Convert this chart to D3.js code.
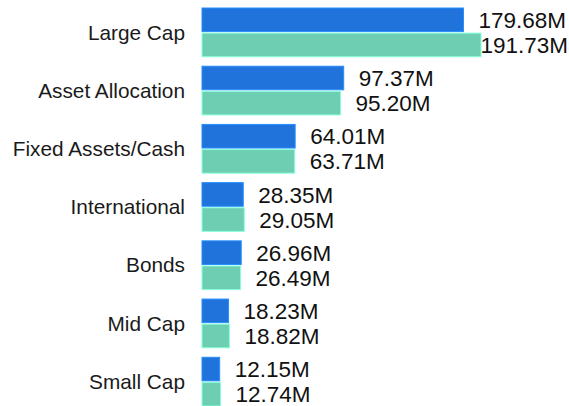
<!DOCTYPE html>
<html>
<head>
<meta charset="utf-8">
<script src="https://cdn.jsdelivr.net/npm/d3@7"></script>
<style>
  body { margin: 0; background: #fff; }
  text { font-family: "Liberation Sans", Arial, sans-serif; }
</style>
</head>
<body>
<div class="chart-container"></div>
<script>
//! DATA
const categories = ['Large Cap', 'Asset Allocation', 'Fixed Assets/Cash', 'International', 'Bonds', 'Mid Cap', 'Small Cap']
const seriesNames = ['current', 'previous']
const currentValues = [179.68, 97.37, 64.01, 28.35, 26.96, 18.23, 12.15]
const previousValues = [191.73, 95.20, 63.71, 29.05, 26.49, 18.82, 12.74]
const colors = ['#1f73db', '#6dceb1']

//! CONSTS
const width = 569
const height = 406
const left = 202
const labelGap = 15

const rows = categories.map((c, i) => ({
  category: c,
  values: [currentValues[i], previousValues[i]]
}))

//! SVG
const svg = d3.select('.chart-container')
  .append('svg')
  .attr('width', width)
  .attr('height', height)

//! SCALES
const xScale = d3.scaleLinear()
  .domain([0, d3.max(previousValues.concat(currentValues))])
  .range([left, 481])

const yScale = d3.scaleBand()
  .domain(categories)
  .range([8, 406])
  .paddingInner(0.163)
  .paddingOuter(0)

const subScale = d3.scaleBand()
  .domain(seriesNames)
  .range([0, yScale.bandwidth()])
  .paddingInner(0.06)

//! CATEGORY LABELS
svg.append('g')
  .selectAll('text')
  .data(categories)
  .enter()
  .append('text')
  .attr('x', 185)
  .attr('y', d => yScale(d) + yScale.bandwidth() / 2)
  .attr('dy', '0.35em')
  .attr('text-anchor', 'end')
  .attr('font-size', 20.8)
  .attr('fill', '#1a1a1a')
  .text(d => d)

//! BARS
const groups = svg.append('g')
  .selectAll('g')
  .data(rows)
  .enter()
  .append('g')
  .attr('transform', d => `translate(0,${yScale(d.category)})`)

groups.selectAll('rect')
  .data(d => d.values.map((v, i) => ({ key: seriesNames[i], value: v, i })))
  .enter()
  .append('rect')
  .attr('x', xScale(0))
  .attr('y', d => subScale(d.key))
  .attr('width', d => xScale(d.value) - xScale(0))
  .attr('height', subScale.bandwidth())
  .attr('fill', d => colors[d.i])
  .attr('stroke', d => d3.color(colors[d.i]).brighter(0.6))
  .attr('stroke-width', 1)

// value labels, pushed back in when they would run off the edge
groups.selectAll('text')
  .data(d => d.values.map((v, i) => ({ key: seriesNames[i], value: v, i })))
  .enter()
  .append('text')
  .attr('y', d => subScale(d.key) + subScale.bandwidth() / 2)
  .attr('dy', '0.36em')
  .attr('font-size', 22.5)
  .attr('fill', '#111')
  .text(d => d3.format('.2f')(d.value) + 'M')
  .attr('x', function (d) {
    const w = this.getComputedTextLength()
    return Math.min(xScale(d.value) + labelGap, width - 1 - w)
  })
</script>
</body>
</html>
